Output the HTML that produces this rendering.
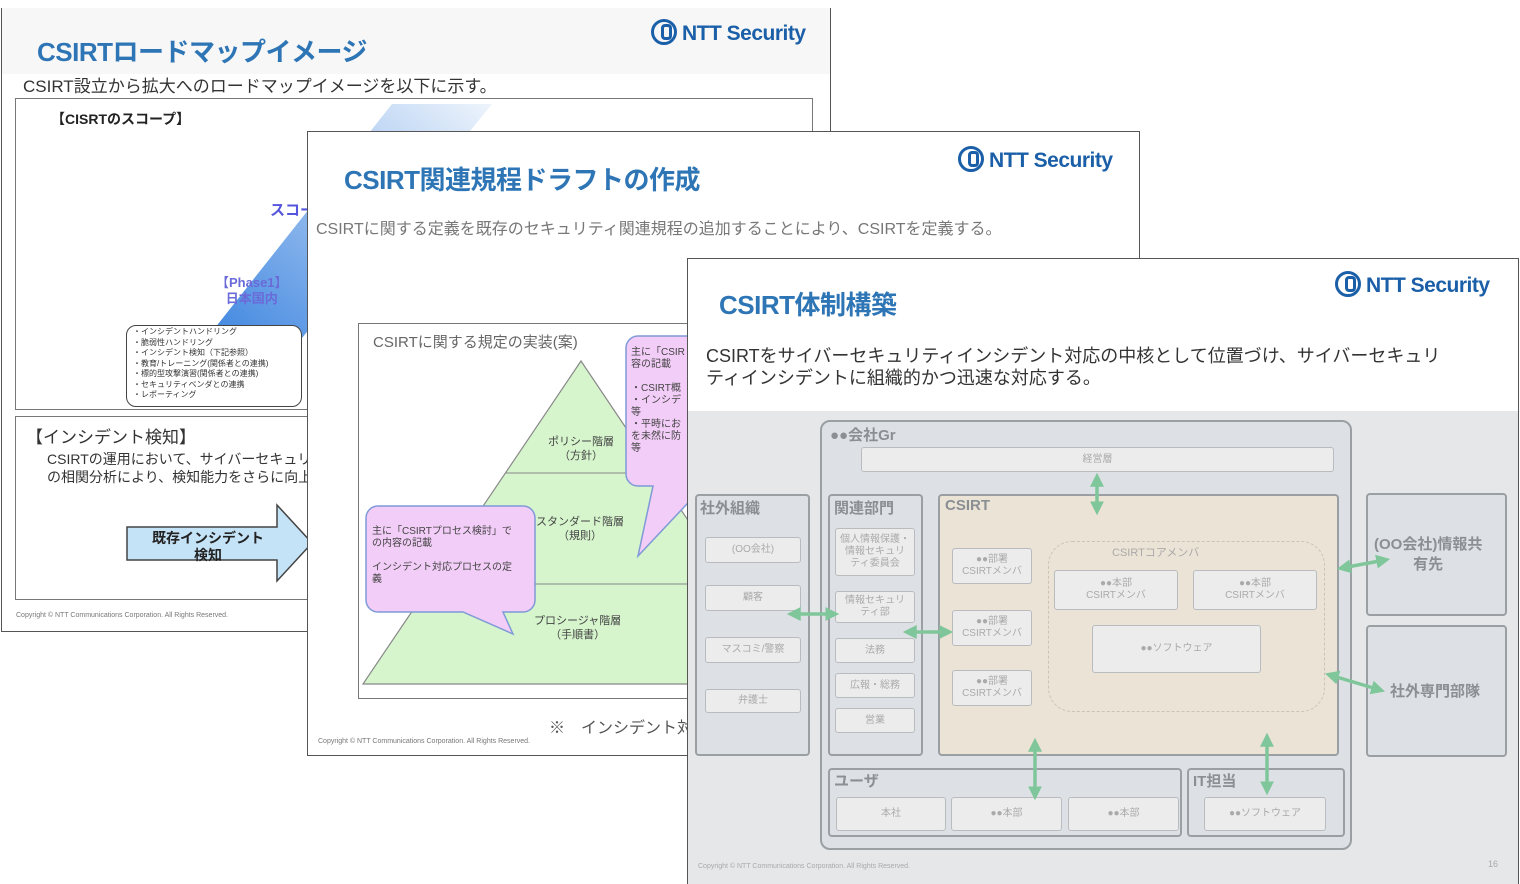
<!DOCTYPE html>
<html><head><meta charset="utf-8">
<style>
*{margin:0;padding:0;box-sizing:border-box}
body{width:1520px;height:884px;background:#fff;position:relative;overflow:hidden;font-family:"Liberation Sans","Noto Sans CJK JP",sans-serif;}
.a{position:absolute}
.sl{position:absolute;background:#fff;overflow:hidden;border:1.5px solid #555}
.t{position:absolute;white-space:nowrap}
.logo{position:absolute;font-weight:bold;color:#1a5fa8;font-size:21px;white-space:nowrap;letter-spacing:-0.5px}
.logo span{display:inline-block;width:26px;height:26px;border:3.5px solid #1a5fa8;border-radius:50%;vertical-align:-5px;margin-right:5px;position:relative}
.logo span:after{content:"";position:absolute;left:7px;top:2px;width:5px;height:10px;border:3px solid #1a5fa8;border-radius:4px}
.title{position:absolute;font-weight:bold;color:#2e75b6;font-size:26px;white-space:nowrap;letter-spacing:-0.5px}
.b{position:absolute;border:2px solid #9a9fa3;border-radius:4px}
.w{position:absolute;background:#ececec;border:1.5px solid #b8bcbf;border-radius:3px;color:#aaa;font-size:10px;text-align:center;display:flex;align-items:center;justify-content:center;line-height:12px}
.lb{position:absolute;color:#8a8f94;font-weight:bold;font-size:15px;white-space:nowrap}
</style></head><body>

<!-- Slide 1 -->
<div class="sl" style="left:1px;top:8px;width:830px;height:624px;border-top:none">
  <div class="a" style="left:0;top:0;width:830px;height:66px;background:#f7f7f7"></div>
  <div class="title" style="left:35px;top:24px">CSIRTロードマップイメージ</div>
  <div class="logo" style="left:649px;top:11px"><span></span>NTT Security</div>
  <div class="t" style="left:21px;top:64px;font-size:17px;color:#333">CSIRT設立から拡大へのロードマップイメージを以下に示す。</div>
  <div class="a" style="left:13px;top:90px;width:798px;height:312px;border:1.5px solid #777"></div>
  <svg class="a" style="left:0;top:0" width="830" height="420">
    <defs><linearGradient id="g1" x1="0" y1="1" x2="1" y2="0"><stop offset="0" stop-color="#3f86e0"/><stop offset="1" stop-color="#eef4fc"/></linearGradient></defs>
    <polygon points="205,330 300,330 490,96 390,96" fill="url(#g1)"/>
  </svg>
  <div class="t" style="left:49px;top:101px;font-size:14px;font-weight:bold;color:#222">【CISRTのスコープ】</div>
  <div class="t" style="left:268px;top:191px;font-size:15px;font-weight:bold;color:#5555dd">スコー</div>
  <div class="t" style="left:214px;top:267px;font-size:13px;font-weight:bold;color:#6a6ad8;text-align:center;line-height:16px">【Phase1】<br>日本国内</div>
  <div class="a" style="left:124px;top:317px;width:176px;height:82px;border:1.5px solid #444;border-radius:10px;background:#fff;font-size:8px;line-height:10.5px;color:#333;padding:1px 0 0 6px">
   ・インシデントハンドリング<br>・脆弱性ハンドリング<br>・インシデント検知（下記参照）<br>・教育/トレーニング(関係者との連携)<br>・標的型攻撃演習(関係者との連携)<br>・セキュリティベンダとの連携<br>・レポーティング</div>
  <div class="a" style="left:13px;top:408px;width:798px;height:184px;border:1.5px solid #777"></div>
  <div class="t" style="left:24px;top:415px;font-size:17px;color:#333">【インシデント検知】</div>
  <div class="t" style="left:45px;top:442px;font-size:14px;color:#333;line-height:18px">CSIRTの運用において、サイバーセキュリティ<br>の相関分析により、検知能力をさらに向上</div>
  <svg class="a" style="left:120px;top:495px" width="200" height="85">
    <polygon points="5,24 155,24 155,2 190,40 155,78 155,57 5,57" fill="#c5e3f7" stroke="#444" stroke-width="1.5"/>
  </svg>
  <div class="t" style="left:150px;top:522px;font-size:14px;font-weight:bold;color:#222;text-align:center;line-height:17px">既存インシデント<br>検知</div>
  <div class="t" style="left:14px;top:604px;font-size:7px;color:#777">Copyright © NTT Communications Corporation. All Rights Reserved.</div>
</div>

<!-- Slide 2 -->
<div class="sl" style="left:307px;top:131px;width:833px;height:625px">
  <div class="title" style="left:36px;top:28px">CSIRT関連規程ドラフトの作成</div>
  <div class="logo" style="left:650px;top:14px"><span></span>NTT Security</div>
  <div class="t" style="left:8px;top:83px;font-size:16px;color:#777">CSIRTに関する定義を既存のセキュリティ関連規程の追加することにより、CSIRTを定義する。</div>
  <div class="a" style="left:50px;top:191px;width:400px;height:376px;border:1.5px solid #777"></div>
  <div class="t" style="left:65px;top:199px;font-size:15px;color:#666">CSIRTに関する規定の実装(案)</div>
  <svg class="a" style="left:0;top:0" width="833" height="625">
    <polygon points="273,229 490,552 55,552" fill="#d6f5cd" stroke="#888" stroke-width="1.2"/>
    <line x1="198" y1="341" x2="420" y2="341" stroke="#888"/>
    <line x1="122" y1="452" x2="420" y2="452" stroke="#888"/>
    <path d="M70,374 h145 a12,12 0 0 1 12,12 v82 a12,12 0 0 1 -12,12 h-20 l10,22 l-50,-22 h-85 a12,12 0 0 1 -12,-12 v-82 a12,12 0 0 1 12,-12z" fill="#f2cdf7" stroke="#7f9ad6" stroke-width="1.5"/>
    <path d="M330,204 h80 v135 l-80,85 l15,-70 h-15 a12,12 0 0 1 -12,-12 v-126 a12,12 0 0 1 12,-12z" fill="#f2cdf7" stroke="#7f9ad6" stroke-width="1.5"/>
  </svg>
  <div class="t" style="left:240px;top:303px;font-size:11px;color:#444;text-align:center;line-height:14px">ポリシー階層<br>（方針）</div>
  <div class="t" style="left:228px;top:383px;font-size:11px;color:#444;text-align:center;line-height:14px">スタンダード階層<br>（規則）</div>
  <div class="t" style="left:226px;top:482px;font-size:11px;color:#444;text-align:center;line-height:14px">プロシージャ階層<br>（手順書）</div>
  <div class="t" style="left:64px;top:394px;font-size:10px;color:#444;line-height:12px">主に「CSIRTプロセス検討」で<br>の内容の記載<br><br>インシデント対応プロセスの定<br>義</div>
  <div class="t" style="left:323px;top:215px;font-size:10px;color:#444;line-height:12px">主に「CSIR<br>容の記載<br><br>・CSIRT概<br>・インシデ<br>等<br>・平時にお<br>を未然に防<br>等</div>
  <div class="t" style="left:241px;top:582px;font-size:16px;color:#555">※　インシデント対</div>
  <div class="t" style="left:10px;top:606px;font-size:7px;color:#777">Copyright © NTT Communications Corporation. All Rights Reserved.</div>
</div>

<!-- Slide 3 -->
<div class="sl" style="left:687px;top:258px;width:832px;height:626px;border-bottom:none">
  <div class="title" style="left:31px;top:26px">CSIRT体制構築</div>
  <div class="logo" style="left:647px;top:12px"><span></span>NTT Security</div>
  <div class="t" style="left:18px;top:86px;font-size:18px;color:#333;line-height:22px">CSIRTをサイバーセキュリティインシデント対応の中核として位置づけ、サイバーセキュリ<br>ティインシデントに組織的かつ迅速な対応する。</div>
  <div class="a" style="left:0;top:152px;width:832px;height:474px;background:#e6e7e8"></div>
  <div class="t" style="left:10px;top:604px;font-size:7px;color:#aaa">Copyright © NTT Communications Corporation. All Rights Reserved.</div>
  <div class="t" style="left:800px;top:600px;font-size:9px;color:#aaa">16</div>
</div>

<!-- diagram in slide3 -->
<div class="b" style="left:820px;top:420px;width:532px;height:430px;background:#dde1e5;border-radius:10px"></div>
<div class="lb" style="left:830px;top:424px">●●会社Gr</div>
<div class="w" style="left:861px;top:447px;width:473px;height:25px">経営層</div>

<div class="b" style="left:695px;top:494px;width:115px;height:262px;background:#dde1e5"></div>
<div class="lb" style="left:700px;top:497px">社外組織</div>
<div class="w" style="left:705px;top:537px;width:96px;height:26px">(OO会社)</div>
<div class="w" style="left:705px;top:585px;width:96px;height:26px">顧客</div>
<div class="w" style="left:705px;top:637px;width:96px;height:26px">マスコミ/警察</div>
<div class="w" style="left:705px;top:689px;width:96px;height:24px">弁護士</div>

<div class="b" style="left:828px;top:494px;width:95px;height:262px;background:#dde1e5"></div>
<div class="lb" style="left:834px;top:497px">関連部門</div>
<div class="w" style="left:835px;top:528px;width:80px;height:48px">個人情報保護・<br>情報セキュリ<br>ティ委員会</div>
<div class="w" style="left:835px;top:591px;width:80px;height:32px">情報セキュリ<br>ティ部</div>
<div class="w" style="left:835px;top:638px;width:80px;height:25px">法務</div>
<div class="w" style="left:835px;top:673px;width:80px;height:25px">広報・総務</div>
<div class="w" style="left:835px;top:708px;width:80px;height:25px">営業</div>

<div class="b" style="left:938px;top:494px;width:401px;height:262px;background:#ebe3d5"></div>
<div class="lb" style="left:945px;top:497px">CSIRT</div>
<div class="w" style="left:952px;top:548px;width:80px;height:36px">●●部署<br>CSIRTメンバ</div>
<div class="w" style="left:952px;top:610px;width:80px;height:36px">●●部署<br>CSIRTメンバ</div>
<div class="w" style="left:952px;top:670px;width:80px;height:36px">●●部署<br>CSIRTメンバ</div>
<div class="a" style="left:1048px;top:541px;width:277px;height:171px;border:1.5px dashed #cbc4b4;border-radius:24px"></div>
<div class="t" style="left:1112px;top:544px;font-size:11px;color:#aaa">CSIRTコアメンバ</div>
<div class="w" style="left:1054px;top:570px;width:124px;height:40px">●●本部<br>CSIRTメンバ</div>
<div class="w" style="left:1193px;top:570px;width:124px;height:40px">●●本部<br>CSIRTメンバ</div>
<div class="w" style="left:1092px;top:625px;width:169px;height:48px">●●ソフトウェア</div>

<div class="b" style="left:1366px;top:493px;width:141px;height:123px;background:#dde1e5"></div>
<div class="lb" style="left:1374px;top:535px;text-align:center;line-height:20px">(OO会社)情報共<br>有先</div>
<div class="b" style="left:1366px;top:625px;width:141px;height:132px;background:#dde1e5"></div>
<div class="lb" style="left:1390px;top:680px">社外専門部隊</div>

<div class="b" style="left:828px;top:768px;width:354px;height:69px;background:#dde1e5"></div>
<div class="lb" style="left:834px;top:770px">ユーザ</div>
<div class="w" style="left:836px;top:797px;width:110px;height:34px">本社</div>
<div class="w" style="left:951px;top:797px;width:111px;height:34px">●●本部</div>
<div class="w" style="left:1068px;top:797px;width:111px;height:34px">●●本部</div>
<div class="b" style="left:1187px;top:768px;width:158px;height:69px;background:#dde1e5"></div>
<div class="lb" style="left:1193px;top:770px">IT担当</div>
<div class="w" style="left:1204px;top:797px;width:122px;height:34px">●●ソフトウェア</div>

<svg class="a" style="left:0;top:0" width="1520" height="884">
<defs><marker id="ah" markerWidth="4" markerHeight="4" refX="2.5" refY="2" orient="auto-start-reverse"><path d="M0,0 L4,2 L0,4z" fill="#7fc79a"/></marker></defs>
<g stroke="#7fc79a" stroke-width="3.5" fill="none">
<line x1="1097" y1="478" x2="1097" y2="510" marker-start="url(#ah)" marker-end="url(#ah)"/>
<line x1="792" y1="614" x2="834" y2="614" marker-start="url(#ah)" marker-end="url(#ah)"/>
<line x1="908" y1="632" x2="948" y2="632" marker-start="url(#ah)" marker-end="url(#ah)"/>
<line x1="1342" y1="568" x2="1385" y2="560" marker-start="url(#ah)" marker-end="url(#ah)"/>
<line x1="1330" y1="675" x2="1380" y2="690" marker-start="url(#ah)" marker-end="url(#ah)"/>
<line x1="1035" y1="743" x2="1035" y2="795" marker-start="url(#ah)" marker-end="url(#ah)"/>
<line x1="1267" y1="738" x2="1267" y2="790" marker-start="url(#ah)" marker-end="url(#ah)"/>
</g></svg>
</body></html>
